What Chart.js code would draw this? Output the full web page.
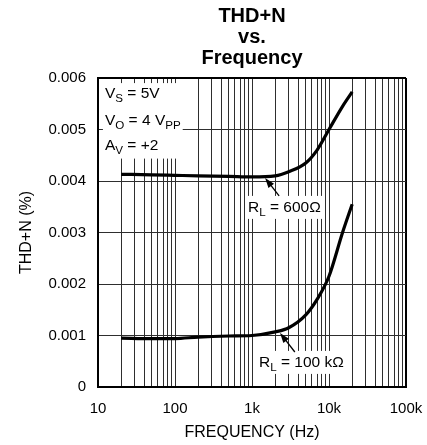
<!DOCTYPE html>
<html>
<head>
<meta charset="utf-8">
<script src="https://cdn.jsdelivr.net/npm/chart.js@4/dist/chart.umd.min.js"></script>
<style>
  html, body { margin: 0; padding: 0; background: #fff; }
</style>
</head>
<body>
<canvas id="chart" width="427" height="445"></canvas>
<script>
// values
const freqs = [20, 50, 100, 200, 500, 1000, 2000, 3000, 5000, 7000, 10000, 15000, 20000]
const thd600 = [0.00413, 0.00412, 0.00411, 0.0041, 0.00409, 0.00408, 0.0041, 0.00418, 0.00435, 0.0046, 0.005, 0.00545, 0.00573]
const thd100k = [0.00095, 0.00094, 0.00094, 0.00097, 0.00099, 0.001, 0.00107, 0.00115, 0.0014, 0.0017, 0.00215, 0.003, 0.00355]

const xLabels = { 10: '10', 100: '100', 1000: '1k', 10000: '10k', 100000: '100k' }
const yTicks = [0, 0.001, 0.002, 0.003, 0.004, 0.005, 0.006]
const yLabels = ['0', '0.001', '0.002', '0.003', '0.004', '0.005', '0.006']

// grid lines at 10, 20..90, 200..900, ... 100k
const xGrid = [10]
for (let d = 10; d < 100000; d *= 10) {
  for (let m = 2; m <= 10; m++) xGrid.push(d * m)
}

const FONT = "'Liberation Sans', Arial, Helvetica, sans-serif"

function toPoints(data) {
  return freqs.map(function (f, i) { return { x: f, y: data[i] } })
}

// text with a subscript part: [[text, isSub], ...]
function drawRich(ctx, parts, x, y, size) {
  let cx = x
  parts.forEach(function (p) {
    const sub = p[1]
    ctx.font = (sub ? size * 0.75 : size) + 'px ' + FONT
    ctx.fillText(p[0], cx, sub ? y + 4 : y)
    cx += ctx.measureText(p[0]).width
  })
  return cx - x
}

function richWidth(ctx, parts, size) {
  let w = 0
  parts.forEach(function (p) {
    ctx.font = (p[1] ? size * 0.75 : size) + 'px ' + FONT
    w += ctx.measureText(p[0]).width
  })
  return w
}

function arrow(ctx, x1, y1, x2, y2) {
  const a = Math.atan2(y2 - y1, x2 - x1)
  ctx.beginPath()
  ctx.moveTo(x1, y1)
  ctx.lineTo(x2 - 6 * Math.cos(a), y2 - 6 * Math.sin(a))
  ctx.lineWidth = 1.3
  ctx.strokeStyle = '#000'
  ctx.stroke()
  ctx.beginPath()
  ctx.moveTo(x2, y2)
  ctx.lineTo(x2 - 10 * Math.cos(a) + 3.5 * Math.sin(a), y2 - 10 * Math.sin(a) - 3.5 * Math.cos(a))
  ctx.lineTo(x2 - 10 * Math.cos(a) - 3.5 * Math.sin(a), y2 - 10 * Math.sin(a) + 3.5 * Math.cos(a))
  ctx.closePath()
  ctx.fillStyle = '#000'
  ctx.fill()
}

const annotations = {
  id: 'annotations',
  beforeDatasetsDraw(chart) {
    const ctx = chart.ctx
    const xs = chart.scales.x, ys = chart.scales.y
    const size = 15.5
    ctx.save()
    ctx.textBaseline = 'alphabetic'
    ctx.textAlign = 'left'

    // conditions box, top left
    const cond = [
      [['V', false], ['S', true], [' = 5V', false]],
      [['V', false], ['O', true], [' = 4 V', false], ['PP', true]],
      [['A', false], ['V', true], [' = +2', false]]
    ]
    const left = xs.getPixelForValue(12.3)
    const base = [ys.getPixelForValue(0.00561), ys.getPixelForValue(0.00508), ys.getPixelForValue(0.00461)]
    let w = 0
    cond.forEach(function (c) { w = Math.max(w, richWidth(ctx, c, size)) })
    ctx.fillStyle = '#fff'
    ctx.fillRect(left - 2, base[0] - 15, w + 4, base[2] - base[0] + 24)
    ctx.fillStyle = '#000'
    cond.forEach(function (c, i) { drawRich(ctx, c, left, base[i], size) })

    // curve labels
    const labels = [
      { parts: [['R', false], ['L', true], [' = 600\u03A9', false]], f: 887, v: 0.0034,
        tail: [2250, 0.00371], tip: [1480, 0.00406] },
      { parts: [['R', false], ['L', true], [' = 100 k\u03A9', false]], f: 1233, v: 0.00039,
        tail: [3600, 0.00068], tip: [2310, 0.00105] }
    ]
    labels.forEach(function (l) {
      const x = xs.getPixelForValue(l.f), y = ys.getPixelForValue(l.v)
      const lw = richWidth(ctx, l.parts, size)
      ctx.fillStyle = '#fff'
      ctx.fillRect(x - 2, y - 16, lw + 4, 23)
      ctx.fillStyle = '#000'
      drawRich(ctx, l.parts, x, y, size)
      arrow(ctx, xs.getPixelForValue(l.tail[0]), ys.getPixelForValue(l.tail[1]),
        xs.getPixelForValue(l.tip[0]), ys.getPixelForValue(l.tip[1]))
    })
    ctx.restore()
  },
  afterDraw(chart) {
    const ctx = chart.ctx
    const area = chart.chartArea
    const cx = (area.left + area.right) / 2
    ctx.save()
    ctx.fillStyle = '#000'
    ctx.textAlign = 'center'
    ctx.textBaseline = 'alphabetic'
    ctx.font = 'bold 20px ' + FONT
    ctx.fillText('THD+N', cx, 21.5)
    ctx.fillText('vs.', cx, 43)
    ctx.fillText('Frequency', cx, 64)
    ctx.restore()
  }
}

function edgeColor(ctx, edge) {
  return ctx.tick && ctx.tick.value === edge ? '#000' : '#2e2e2e'
}

new Chart(document.getElementById('chart'), {
  type: 'line',
  data: {
    datasets: [
      {
        label: 'RL = 600',
        data: toPoints(thd600),
        borderColor: '#000',
        borderWidth: 3.2,
        pointRadius: 0,
        cubicInterpolationMode: 'monotone',
        fill: false
      },
      {
        label: 'RL = 100k',
        data: toPoints(thd100k),
        borderColor: '#000',
        borderWidth: 3.2,
        pointRadius: 0,
        cubicInterpolationMode: 'monotone',
        fill: false
      }
    ]
  },
  plugins: [annotations],
  options: {
    responsive: false,
    animation: false,
    devicePixelRatio: 1,
    layout: { padding: { top: 78, left: 0, right: 21, bottom: 0 } },
    plugins: {
      legend: { display: false },
      title: { display: false },
      tooltip: { enabled: false }
    },
    scales: {
      x: {
        type: 'logarithmic',
        min: 10,
        max: 100000,
        afterBuildTicks: function (s) { s.ticks = xGrid.map(function (v) { return { value: v } }) },
        afterFit: function (s) { s.height = 58; s.paddingLeft = 0; s.paddingRight = 0 },
        ticks: {
          autoSkip: false,
          maxRotation: 0,
          padding: 13,
          color: '#000',
          font: { family: FONT, size: 15 },
          callback: function (v) { return xLabels[v] || '' }
        },
        grid: {
          drawTicks: false,
          color: function (ctx) { return edgeColor(ctx, 100000) },
          lineWidth: function (ctx) { return ctx.tick && ctx.tick.value === 100000 ? 2 : 1 }
        },
        border: { color: '#000', width: 2 },
        title: {
          display: true,
          text: 'FREQUENCY (Hz)',
          color: '#000',
          font: { family: FONT, size: 16 },
          padding: { top: 0, bottom: 3 }
        }
      },
      y: {
        min: 0,
        max: 0.006,
        afterBuildTicks: function (s) { s.ticks = yTicks.map(function (v) { return { value: v } }) },
        afterFit: function (s) { s.width = 98; s.paddingTop = 0; s.paddingBottom = 0 },
        ticks: {
          padding: 12,
          color: '#000',
          font: { family: FONT, size: 15 },
          callback: function (v, i) { return yLabels[i] }
        },
        grid: {
          drawTicks: false,
          color: function (ctx) { return edgeColor(ctx, 0.006) },
          lineWidth: function (ctx) { return ctx.tick && ctx.tick.value === 0.006 ? 2 : 1 }
        },
        border: { color: '#000', width: 2 },
        title: {
          display: true,
          text: 'THD+N (%)',
          color: '#000',
          font: { family: FONT, size: 16 },
          padding: { top: 17, bottom: 0 }
        }
      }
    }
  }
})
</script>
</body>
</html>
